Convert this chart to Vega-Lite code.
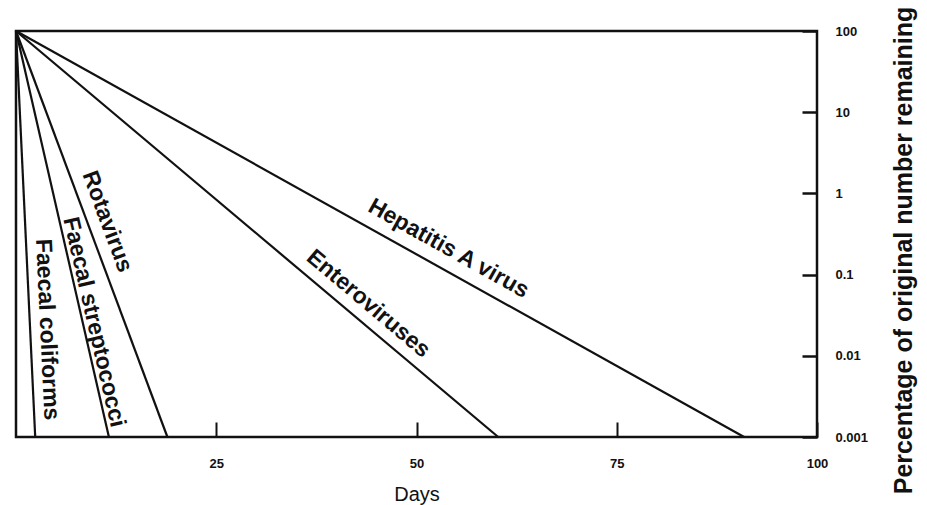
{
  "$schema": "https://vega.github.io/schema/vega-lite/v6.json",
  "autosize": "none",
  "width": 801,
  "height": 406,
  "padding": {"left": 16, "top": 31, "right": 110, "bottom": 68},
  "background": "white",
  "config": {
    "view": {"stroke": "#111", "strokeWidth": 2.5},
    "font": "Liberation Sans"
  },
  "datasets": {
    "lines": [
      {"organism": "Faecal coliforms", "day": 0, "pct": 100},
      {"organism": "Faecal coliforms", "day": 2.4, "pct": 0.001},
      {"organism": "Faecal streptococci", "day": 0, "pct": 100},
      {"organism": "Faecal streptococci", "day": 11.6, "pct": 0.001},
      {"organism": "Rotavirus", "day": 0, "pct": 100},
      {"organism": "Rotavirus", "day": 18.9, "pct": 0.001},
      {"organism": "Enteroviruses", "day": 0, "pct": 100},
      {"organism": "Enteroviruses", "day": 60.2, "pct": 0.001},
      {"organism": "Hepatitis A virus", "day": 0, "pct": 100},
      {"organism": "Hepatitis A virus", "day": 90.9, "pct": 0.001}
    ],
    "labels": [
      {"organism": "Faecal coliforms", "day": 3.9, "pct": 0.021},
      {"organism": "Faecal streptococci", "day": 9.75, "pct": 0.026},
      {"organism": "Rotavirus", "day": 11.4, "pct": 0.45},
      {"organism": "Enteroviruses", "day": 44, "pct": 0.044},
      {"organism": "Hepatitis A virus", "day": 54, "pct": 0.21}
    ]
  },
  "encoding": {
    "x": {
      "field": "day", "type": "quantitative",
      "scale": {"domain": [0, 100], "nice": false, "zero": false},
      "axis": {
        "title": "Days", "values": [25, 50, 75, 100], "grid": false, "domain": false,
        "tickSize": -15, "tickWidth": 2, "tickColor": "#111",
        "labelPadding": 35, "labelFontSize": 13, "labelFontWeight": "bold", "labelColor": "#111",
        "labelFlush": false,
        "titleFontSize": 20, "titleFontWeight": "normal", "titleColor": "#111",
        "titleY": 57, "titleBaseline": "middle"
      }
    },
    "y": {
      "field": "pct", "type": "quantitative",
      "scale": {"type": "log", "domain": [0.001, 100], "nice": false},
      "axis": {
        "orient": "right", "title": "Percentage of original number remaining",
        "values": [0.001, 0.01, 0.1, 1, 10, 100], "format": "~g",
        "grid": false, "domain": false,
        "tickSize": -15, "tickWidth": 2.5, "tickColor": "#111",
        "labelPadding": 33, "labelFontSize": 13, "labelFontWeight": "bold", "labelColor": "#111",
        "labelFlush": false, "labelAlign": "left",
        "titleFontSize": 25, "titleFontWeight": "bold", "titleColor": "#111",
        "titleAngle": -90, "titleX": 86, "titleY": 219,
        "titleAlign": "center", "titleBaseline": "middle"
      }
    }
  },
  "layer": [
    {
      "data": {"name": "lines"},
      "mark": {"type": "line", "color": "#111", "strokeWidth": 2.2},
      "encoding": {"detail": {"field": "organism"}}
    },
    {
      "data": {"name": "labels"},
      "transform": [{"filter": "datum.organism == 'Faecal coliforms'"}],
      "mark": {"type": "text", "angle": 87.3, "fontSize": 23, "fontWeight": "bold", "color": "#111", "align": "center", "baseline": "middle"},
      "encoding": {"text": {"field": "organism"}}
    },
    {
      "data": {"name": "labels"},
      "transform": [{"filter": "datum.organism == 'Faecal streptococci'"}],
      "mark": {"type": "text", "angle": 77.1, "fontSize": 23, "fontWeight": "bold", "color": "#111", "align": "center", "baseline": "middle"},
      "encoding": {"text": {"field": "organism"}}
    },
    {
      "data": {"name": "labels"},
      "transform": [{"filter": "datum.organism == 'Rotavirus'"}],
      "mark": {"type": "text", "angle": 69.6, "fontSize": 23, "fontWeight": "bold", "color": "#111", "align": "center", "baseline": "middle"},
      "encoding": {"text": {"field": "organism"}}
    },
    {
      "data": {"name": "labels"},
      "transform": [{"filter": "datum.organism == 'Enteroviruses'"}],
      "mark": {"type": "text", "angle": 40.2, "fontSize": 23, "fontWeight": "bold", "color": "#111", "align": "center", "baseline": "middle"},
      "encoding": {"text": {"field": "organism"}}
    },
    {
      "data": {"name": "labels"},
      "transform": [{"filter": "datum.organism == 'Hepatitis A virus'"}],
      "mark": {"type": "text", "angle": 29.2, "fontSize": 23, "fontWeight": "bold", "color": "#111", "align": "center", "baseline": "middle"},
      "encoding": {"text": {"field": "organism"}}
    }
  ]
}
